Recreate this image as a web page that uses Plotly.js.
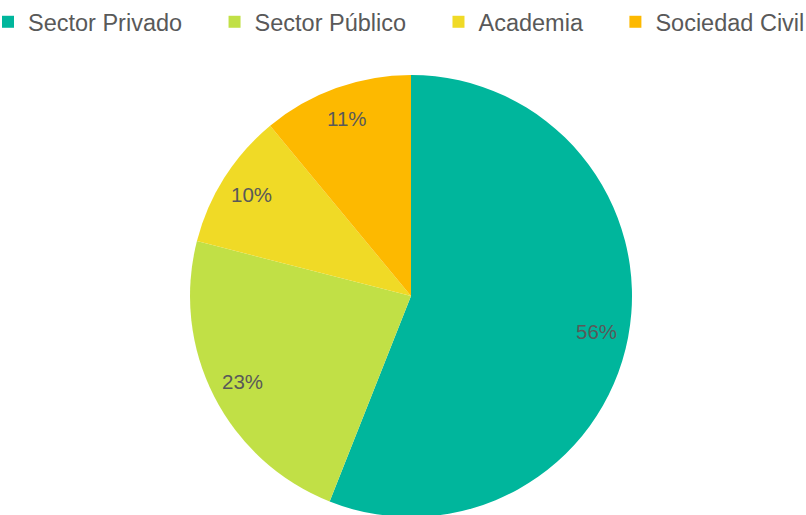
<!DOCTYPE html>
<html>
<head>
<meta charset="utf-8">
<script src="https://cdn.plot.ly/plotly-3.0.1.min.js"></script>
<style>
html,body{margin:0;padding:0;overflow:hidden;background:#fff;width:806px;height:515px;}
#chart{position:absolute;left:-12px;top:0;width:830px;height:520px;}
</style>
</head>
<body>
<div id="chart"></div>
<script>
const categories = ["Sector Privado", "Sector Público", "Academia", "Sociedad Civil"];
const values = [56, 23, 10, 11];
const colors = ["#00B69C", "#C1E046", "#F0DA26", "#FDB900"];

const W = 830, H = 520;
const cx = 423, cy = 296, R = 221;

const total = values.reduce((a, b) => a + b, 0);
const annotations = [];
let cum = 0;
values.forEach((v, i) => {
  const mid = (cum + v / 2) / total * 2 * Math.PI;
  cum += v;
  const px = cx + 0.855 * R * Math.sin(mid);
  const py = cy - 0.855 * R * Math.cos(mid);
  annotations.push({
    x: px / W, y: 1 - py / H, xref: "paper", yref: "paper",
    text: Math.round(v / total * 100) + "%",
    showarrow: false, xanchor: "center", yanchor: "middle",
    font: {family: "Liberation Sans, Arial, sans-serif", size: 20.5, color: "#595959"}
  });
});

// legend entries: category names, with trailing spacing (except the last) to widen the gap between entries
const legendLabels = categories.map((c, i) => i < categories.length - 1 ? c + "\u2003\u2006" : c);

const trace = {
  type: "pie",
  labels: legendLabels,
  values: values,
  sort: false,
  direction: "clockwise",
  rotation: 0,
  marker: {colors: colors, line: {width: 0}},
  textinfo: "none",
  hoverinfo: "label+percent",
  domain: {x: [(cx - R) / W, (cx + R) / W], y: [(H - cy - R) / H, (H - cy + R) / H]}
};

const layout = {
  width: W, height: H,
  margin: {l: 0, r: 0, t: 0, b: 0, autoexpand: false},
  paper_bgcolor: "rgba(0,0,0,0)",
  showlegend: true,
  legend: {
    orientation: "h", xref: "container", yref: "container",
    x: 0, xanchor: "left", y: 1.0, yanchor: "top",
    itemwidth: 30,
    font: {family: "Liberation Sans, Arial, sans-serif", size: 23.5, color: "#595959"},
    itemclick: false, itemdoubleclick: false
  },
  annotations: annotations
};

Plotly.newPlot("chart", [trace], layout, {displayModeBar: false, staticPlot: true});
</script>
</body>
</html>
